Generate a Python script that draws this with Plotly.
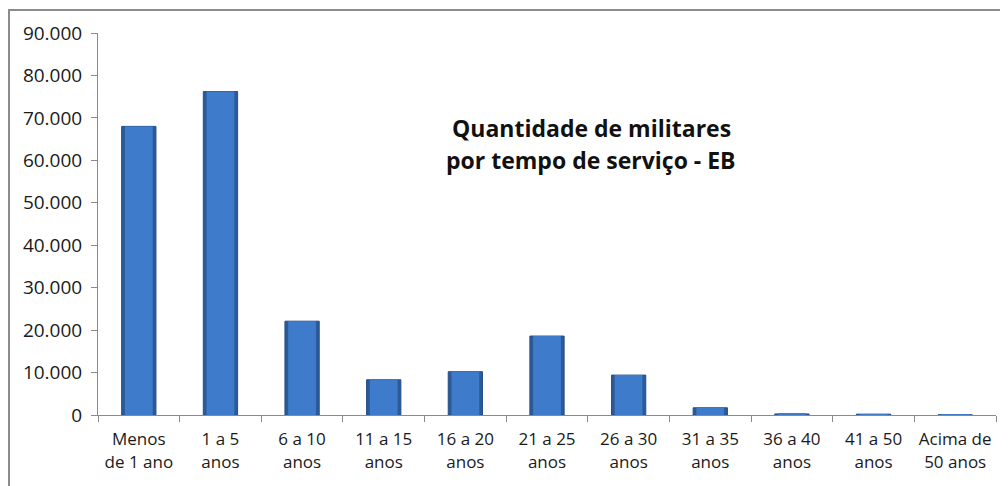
import plotly.graph_objects as go

categories = ["Menos<br>de 1 ano", "1 a 5<br>anos", "6 a 10<br>anos", "11 a 15<br>anos",
              "16 a 20<br>anos", "21 a 25<br>anos", "26 a 30<br>anos", "31 a 35<br>anos",
              "36 a 40<br>anos", "41 a 50<br>anos", "Acima de<br>50 anos"]
values = [68000, 76200, 22100, 8300, 10200, 18600, 9400, 1700, 250, 200, 30]
y_ticks = [0, 10000, 20000, 30000, 40000, 50000, 60000, 70000, 80000, 90000]
title_lines = ["Quantidade de militares", "por tempo de serviço - EB"]

# page has an 8px body margin: figure origin sits at page (8, 8)
OFF = 8
W, H = 1008 - OFF, 486 - OFF
L, R, T, B = 98 - OFF, 12, 33 - OFF, 486 - 415
pw, ph = W - L - R, H - T - B

def px_x(x):  # page pixel -> paper
    return (x - OFF - L) / pw

def px_y(y):
    return (H - B - (y - OFF)) / ph

fig = go.Figure()
fig.add_trace(go.Bar(
    x=categories, y=values,
    marker=dict(color="#2C5A98", line=dict(color="#244F88", width=1)),
    width=0.42,
))
fig.add_trace(go.Bar(
    x=categories, y=values,
    marker=dict(color="#3E7CCB", line=dict(width=0)),
    width=0.34,
    hoverinfo="skip",
))

fig.update_layout(
    width=W, height=H,
    barmode="overlay",
    margin=dict(l=L, r=R, t=T, b=B),
    plot_bgcolor="white", paper_bgcolor="white",
    separators=",.",
    showlegend=False,
    font=dict(family="Open Sans", size=17, color="#1a1a1a"),
    xaxis=dict(
        showline=True, linecolor="#8a8a8a", linewidth=1,
        ticks="outside", tickson="boundaries", ticklen=6, tickcolor="#8a8a8a",
        showgrid=False, tickfont=dict(size=17), tickangle=0, automargin=False,
        ticklabelstandoff=9,
    ),
    yaxis=dict(
        range=[0, 90000], tickvals=y_ticks, tickformat=",.0f",
        showline=True, linecolor="#8a8a8a", linewidth=1,
        ticks="outside", ticklen=6, tickcolor="#8a8a8a",
        showgrid=False, zeroline=False, tickfont=dict(size=19), automargin=False,
        ticklabelstandoff=5,
    ),
)

for t, yy in zip(title_lines, [128, 160]):
    fig.add_annotation(
        text="<b>%s</b>" % t, xref="paper", yref="paper",
        x=px_x(591), y=px_y(yy), showarrow=False,
        xanchor="center", yanchor="middle",
        font=dict(family="Open Sans", size=23, color="#111111"),
    )

fig.add_shape(
    type="rect", xref="paper", yref="paper",
    x0=px_x(9), x1=px_x(1005), y0=px_y(495), y1=px_y(10),
    line=dict(color="#8c8c8c", width=2), fillcolor="rgba(0,0,0,0)", layer="below",
)

fig.write_html("out.html")
